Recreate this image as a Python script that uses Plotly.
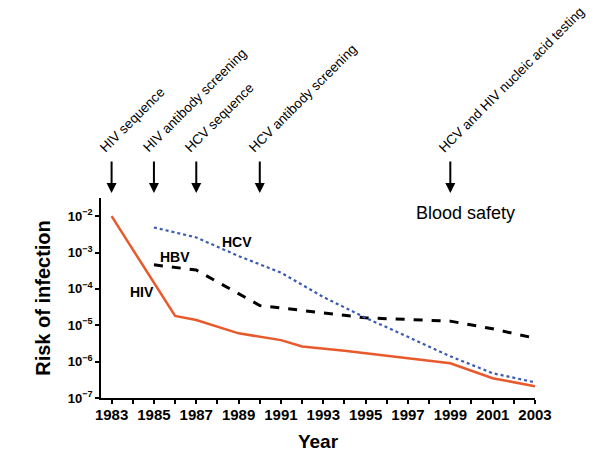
import plotly.graph_objects as go

hiv_years = [1983, 1986, 1987, 1989, 1991, 1992, 1994, 1995, 1996, 1997, 1998, 1999, 2001, 2003]
hiv_risk = [1.0e-2, 1.8e-5, 1.4e-5, 6.0e-6, 3.9e-6, 2.6e-6, 2.0e-6, 1.7e-6, 1.4e-6, 1.2e-6, 1.05e-6, 9.0e-7, 3.5e-7, 2.1e-7]

hbv_years = [1985, 1987, 1990, 1995, 1999, 2001, 2003]
hbv_risk = [4.6e-4, 3.3e-4, 3.5e-5, 1.6e-5, 1.3e-5, 8.0e-6, 4.4e-6]

hcv_years = [1985, 1987, 1989, 1991, 1993, 1995, 1997, 1999, 2001, 2003]
hcv_risk = [4.9e-3, 2.6e-3, 8.0e-4, 2.8e-4, 6.0e-5, 1.6e-5, 4.8e-6, 1.4e-6, 4.8e-7, 2.7e-7]

event_years = [1983, 1985, 1987, 1990, 1999]
event_labels = ["HIV sequence", "HIV antibody screening", "HCV sequence",
                "HCV antibody screening", "HCV and HIV nucleic acid testing"]

x_tick_years = list(range(1983, 2004, 2))
y_tick_exps = [-7, -6, -5, -4, -3, -2]

FONT = "Liberation Sans, Arial, Helvetica, sans-serif"

fig = go.Figure()
fig.add_trace(go.Scatter(x=hiv_years, y=hiv_risk, mode="lines", name="HIV",
                         line=dict(color="#E85A2C", width=2.5)))
fig.add_trace(go.Scatter(x=hbv_years, y=hbv_risk, mode="lines", name="HBV",
                         line=dict(color="black", width=3, dash="dash")))
fig.add_trace(go.Scatter(x=hcv_years, y=hcv_risk, mode="lines", name="HCV",
                         line=dict(color="#3B5BB0", width=2.2, dash="dot")))

annotations = []
for yr, lab in zip(event_years, event_labels):
    annotations.append(dict(x=yr, y=1.025, xref="x", yref="paper", text="",
                            showarrow=True, ax=0, ay=-33, arrowhead=2,
                            arrowsize=1, arrowwidth=2, arrowcolor="black"))
    annotations.append(dict(x=yr, y=1.2, xref="x", yref="paper", text=lab,
                            showarrow=False, textangle=-45, xanchor="left",
                            yanchor="bottom", xshift=-17,
                            font=dict(family=FONT, size=13.5, color="black")))

series_labels = [("HIV", 1984.43, -4.09), ("HBV", 1985.99, -3.12), ("HCV", 1988.93, -2.71)]
for txt, x, y in series_labels:
    annotations.append(dict(x=x, y=y, xref="x", yref="y", text="<b>%s</b>" % txt,
                            showarrow=False, xanchor="center", yanchor="middle",
                            font=dict(family=FONT, size=14, color="black")))

annotations.append(dict(x=1999.7, y=0.925, xref="x", yref="paper", text="Blood safety",
                        showarrow=False, xanchor="center", yanchor="middle",
                        font=dict(family=FONT, size=18, color="black")))

# page body has an 8px default margin, so the figure is 8px smaller and margins shifted
fig.update_layout(
    width=592, height=457,
    margin=dict(l=93, r=65, t=190, b=67, autoexpand=False),
    paper_bgcolor="white", plot_bgcolor="white",
    showlegend=False,
    font=dict(family=FONT, color="black"),
    annotations=annotations,
)
fig.update_xaxes(range=[1982.5, 2003], showgrid=False, zeroline=False, automargin=False,
                 showline=True, linecolor="black", linewidth=1.5,
                 tickmode="array", tickvals=x_tick_years,
                 ticktext=["<b>%d</b>" % y for y in x_tick_years],
                 ticks="outside", ticklen=4, tickwidth=1.5, tickcolor="black",
                 ticklabelstandoff=-2,
                 minor=dict(dtick=1, ticks="outside", ticklen=4, tickwidth=1.5, tickcolor="black"),
                 tickfont=dict(family=FONT, size=15, color="black"),
                 title=dict(text="<b>Year</b>", font=dict(family=FONT, size=19, color="black"), standoff=13))
fig.update_yaxes(type="log", range=[-7, -1.5], showgrid=False, zeroline=False, automargin=False,
                 showline=True, linecolor="black", linewidth=1.5,
                 tickmode="array", tickvals=[10 ** e for e in y_tick_exps],
                 ticktext=["<b>10<sup>\u2212%d</sup></b>" % (-e) for e in y_tick_exps],
                 ticks="outside", ticklen=4, tickwidth=1.5, tickcolor="black",
                 tickfont=dict(family=FONT, size=13, color="black"),
                 title=dict(text="<b>Risk of infection</b>", font=dict(family=FONT, size=20, color="black"), standoff=12))

fig.write_html("out.html")
